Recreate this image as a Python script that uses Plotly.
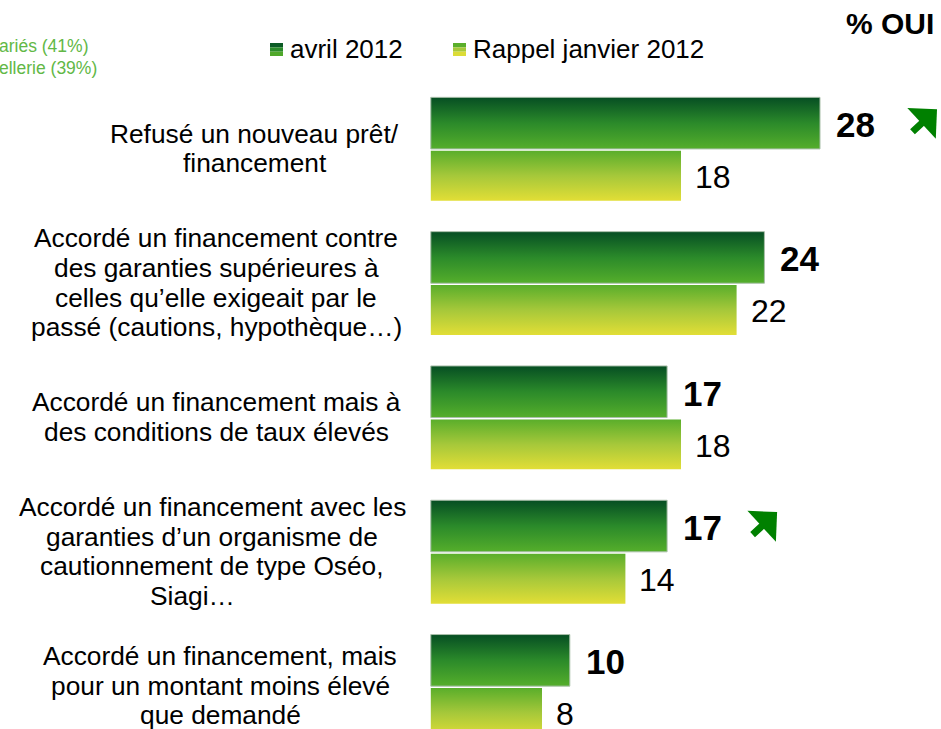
import plotly.graph_objects as go

# ---------------- data ----------------
categories = [
    ["Refusé un nouveau prêt/", "financement"],
    ["Accordé un financement contre", "des garanties supérieures à",
     "celles qu’elle exigeait par le", "passé (cautions, hypothèque…)"],
    ["Accordé un financement mais à", "des conditions de taux élevés"],
    ["Accordé un financement avec les", "garanties d’un organisme de",
     "cautionnement de type Oséo,", "Siagi…"],
    ["Accordé un financement, mais", "pour un montant moins élevé",
     "que demandé"],
]
avril_2012 = [28, 24, 17, 17, 10]
janvier_2012 = [18, 22, 18, 14, 8]
hausse = [True, False, False, True, False]
series_names = ["avril 2012", "Rappel janvier 2012"]
unit_label = "% OUI"
side_notes = ["ariés (41%)", "ellerie (39%)"]

# ---------------- geometry / style ----------------
W, H = 941, 729
X0_PX, PX_PER_UNIT = 430.8, 13.9          # x=0 pixel and scale
GROUP_PX, FIRST_CENTER_PX = 134.3, 150.0  # group spacing and first group centre
x_range = [-X0_PX / PX_PER_UNIT, (W - X0_PX) / PX_PER_UNIT]
y_range = [-(H - FIRST_CENTER_PX) / GROUP_PX, FIRST_CENTER_PX / GROUP_PX]

AV_TOP, AV_BOT = 0.392, 0.008
JA_TOP, JA_BOT = -0.006, -0.378

av_scale = [[0, "#55ae2b"], [0.5, "#2b8a2a"], [1, "#064e23"]]
ja_scale = [[0, "#e2de36"], [0.5, "#a6c83a"], [1, "#5aae2b"]]

label_cx_px = [255, 216, 216, 212, 220]
line_px = 29.7
label_dy_px = -1.5
arrow_dx_px = {0: 117, 3: 110}
FONT = "Liberation Sans, Arial, sans-serif"

fig = go.Figure()

for i, (va, vj) in enumerate(zip(avril_2012, janvier_2012)):
    c = -i
    for v, top, bot, cs, ln, name in [
        (va, AV_TOP, AV_BOT, av_scale, dict(color="#a9bfa9", width=1), series_names[0]),
        (vj, JA_TOP, JA_BOT, ja_scale, dict(color="rgba(0,0,0,0)", width=0), series_names[1]),
    ]:
        y_t, y_b = c + top, c + bot
        fig.add_trace(go.Scatter(
            x=[0, v, v, 0, 0],
            y=[y_t, y_t, y_b, y_b, y_t],
            mode="lines",
            fill="toself",
            fillgradient=dict(type="vertical", colorscale=cs, start=y_b, stop=y_t),
            line=ln,
            showlegend=False,
            hoverinfo="skip",
            name=name,
        ))

annotations = []
# category labels
for i, lines in enumerate(categories):
    n = len(lines)
    for k, t in enumerate(lines):
        off_px = (k - (n - 1) / 2) * line_px + label_dy_px
        xshift = -20 if t == "Siagi…" else 0
        annotations.append(dict(
            x=label_cx_px[i] / W, xref="paper",
            y=-i - off_px / GROUP_PX, yref="y",
            text=t, showarrow=False, xanchor="center", yanchor="middle",
            xshift=xshift,
            font=dict(family=FONT, size=26.3, color="#000000"),
        ))

# value labels
for i, (va, vj) in enumerate(zip(avril_2012, janvier_2012)):
    annotations.append(dict(
        x=va, y=-i + (AV_TOP + AV_BOT) / 2 - 0.01, xref="x", yref="y",
        text=f"<b>{va}</b>", showarrow=False, xanchor="left", yanchor="middle",
        xshift=14, font=dict(family=FONT, size=35, color="#000000"),
    ))
    annotations.append(dict(
        x=vj, y=-i + (JA_TOP + JA_BOT) / 2 - 0.01, xref="x", yref="y",
        text=str(vj), showarrow=False, xanchor="left", yanchor="middle",
        xshift=12, font=dict(family=FONT, size=32, color="#000000"),
    ))
    if hausse[i]:
        annotations.append(dict(
            x=va, y=-i + (AV_TOP + AV_BOT) / 2 + 14 / GROUP_PX, xref="x", yref="y",
            ax=-26, ay=24, axref="pixel", ayref="pixel",
            xshift=arrow_dx_px[i],
            text="", showarrow=True, arrowhead=1, arrowsize=1.0,
            arrowwidth=7, arrowcolor="#008000", standoff=0, startstandoff=0,
        ))

# header texts
annotations.append(dict(
    x=936 / W, y=1 - 24 / H, xref="paper", yref="paper", text=f"<b>{unit_label}</b>",
    showarrow=False, xanchor="right", yanchor="middle",
    font=dict(family=FONT, size=30, color="#000000"),
))
for k, (t, rx, cy) in enumerate(zip(side_notes, [90, 99], [46, 68])):
    annotations.append(dict(
        x=rx / W, y=1 - cy / H, xref="paper", yref="paper", text=t,
        showarrow=False, xanchor="right", yanchor="middle",
        font=dict(family=FONT, size=17.5, color="#62b846"),
    ))

# legend (custom)
legend_items = [(series_names[0], 270, ["#0b5a25", "#2a8a2a", "#4fa82a"]),
                (series_names[1], 453, ["#5aae2b", "#a6c83a", "#dcdc36"])]
shapes = []
for name, lx, bands in legend_items:
    y_top, size = 43, 13
    nb = len(bands)
    for b, col in enumerate(bands):
        shapes.append(dict(
            type="rect", xref="paper", yref="paper",
            x0=lx / W, x1=(lx + size) / W,
            y0=1 - (y_top + size * (b + 1) / nb) / H, y1=1 - (y_top + size * b / nb) / H,
            fillcolor=col, line=dict(width=0), layer="above",
        ))
    annotations.append(dict(
        x=(lx + 18) / W, y=1 - 49 / H, xref="paper", yref="paper", text=name,
        showarrow=False, xanchor="left", yanchor="middle",
        font=dict(family=FONT, size=26, color="#000000"),
    ))

fig.update_layout(
    width=W, height=H,
    margin=dict(l=0, r=0, t=0, b=0),
    paper_bgcolor="white", plot_bgcolor="white",
    xaxis=dict(range=x_range, visible=False, fixedrange=True),
    yaxis=dict(range=y_range, visible=False, fixedrange=True),
    annotations=annotations,
    shapes=shapes,
    showlegend=False,
)

fig.write_html(
    "out.html",
    config={"displayModeBar": False},
    post_script="document.body.style.margin='0';document.body.style.overflow='hidden';",
)
